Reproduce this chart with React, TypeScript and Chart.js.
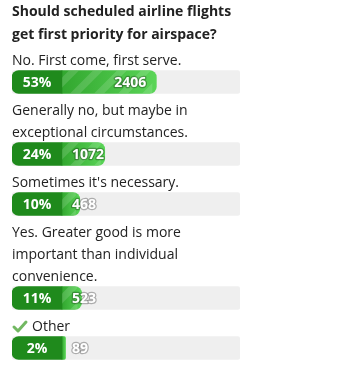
import React, { useEffect, useRef } from "react";
import { Chart, registerables } from "chart.js";
Chart.register(...registerables);

const titleLines = ["Should scheduled airline flights", "get first priority for airspace?"];
const optionLines = [
  ["No. First come, first serve."],
  ["Generally no, but maybe in", "exceptional circumstances."],
  ["Sometimes it's necessary."],
  ["Yes. Greater good is more", "important than individual", "convenience."],
  ["Other"],
];
const percents = [53, 24, 10, 11, 2];
const votes = [2406, 1072, 468, 523, 89];
const checkedOption = [false, false, false, false, true];

const W = 351;
const H = 370;
const LEFT = 12;
const TRACK_RIGHT = 240;
const BOX_W = 50;
const BOX_UNITS = (100 * BOX_W) / (TRACK_RIGHT - LEFT - BOX_W);

const TITLE_Y0 = 12;
const TITLE_LH = 23;
const FIRST_OPTION_Y = 61;
const LINE_H = 22;
const BAR_OFFSET = 21;
const GROUP_GAP = 29;

function computeLayout() {
  const textYs: number[][] = [];
  const barYs: number[] = [];
  let y = FIRST_OPTION_Y;
  optionLines.forEach((lines) => {
    const ys = lines.map((_, i) => y + i * LINE_H);
    textYs.push(ys);
    const b = ys[ys.length - 1] + BAR_OFFSET;
    barYs.push(b);
    y = b + GROUP_GAP;
  });
  return { textYs, barYs };
}

const FONT = "'Open Sans', 'Noto Sans', sans-serif";

export default function App() {
  const ref = useRef<HTMLCanvasElement | null>(null);

  useEffect(() => {
    if (!ref.current) return;
    const { textYs, barYs } = computeLayout();

    const textPlugin = {
      id: "pollText",
      afterDatasetsDraw(chart: any) {
        const ctx = chart.ctx as CanvasRenderingContext2D;
        const ys = chart.scales.y;
        const xs = chart.scales.x;
        ctx.save();
        // stripes on fill bars
        const fillMeta = chart.getDatasetMeta(1);
        fillMeta.data.forEach((el: any) => {
          const p = el.getProps(["x", "y", "base", "height"], true);
          const top = p.y - p.height / 2;
          const bottom = p.y + p.height / 2;
          const w = p.x - p.base;
          if (w <= 0) return;
          ctx.save();
          ctx.beginPath();
          ctx.rect(p.base, top, Math.max(w - 4, 0), p.height);
          ctx.clip();
          ctx.fillStyle = "rgba(255,255,255,0.14)";
          for (let k = p.base - 40; k < p.x + 30; k += 24) {
            ctx.beginPath();
            ctx.moveTo(k, bottom);
            ctx.lineTo(k + 10, bottom);
            ctx.lineTo(k + 10 + p.height, top);
            ctx.lineTo(k + p.height, top);
            ctx.closePath();
            ctx.fill();
          }
          ctx.restore();
        });

        // title
        ctx.fillStyle = "#222";
        ctx.textBaseline = "middle";
        ctx.textAlign = "left";
        ctx.font = `bold 14px ${FONT}`;
        titleLines.forEach((t, i) => {
          ctx.fillText(t, LEFT, ys.getPixelForValue(TITLE_Y0 + i * TITLE_LH));
        });

        // option texts
        ctx.font = `14px ${FONT}`;
        optionLines.forEach((lines, i) => {
          lines.forEach((t, j) => {
            const y = ys.getPixelForValue(textYs[i][j]);
            let x = LEFT;
            if (checkedOption[i] && j === 0) {
              ctx.save();
              ctx.strokeStyle = "#72b862";
              ctx.lineWidth = 3;
              ctx.lineCap = "round";
              ctx.lineJoin = "round";
              ctx.beginPath();
              ctx.moveTo(LEFT + 2, y);
              ctx.lineTo(LEFT + 6, y + 4);
              ctx.lineTo(LEFT + 14, y - 5);
              ctx.stroke();
              ctx.restore();
              x = LEFT + 20;
            }
            ctx.fillStyle = "#222";
            ctx.fillText(t, x, y);
          });
        });

        // percent & count labels
        const boxLeft = xs.getPixelForValue(-BOX_UNITS);
        const boxRight = xs.getPixelForValue(0);
        percents.forEach((pct, i) => {
          const y = ys.getPixelForValue(barYs[i]) + 1;
          ctx.font = `bold 14px ${FONT}`;
          ctx.textAlign = "center";
          ctx.fillStyle = "#fff";
          ctx.fillText(`${pct}%`, (boxLeft + boxRight) / 2, y);

          ctx.font = `bold 14px ${FONT}`;
          const label = String(votes[i]);
          const tw = ctx.measureText(label).width;
          const fillEnd = xs.getPixelForValue(pct);
          const right = Math.max(fillEnd - 10, boxRight + 10 + tw);
          ctx.textAlign = "right";
          ctx.lineWidth = 2.5;
          ctx.lineJoin = "round";
          ctx.strokeStyle = "rgba(0,0,0,0.28)";
          ctx.strokeText(label, right, y);
          ctx.fillStyle = "#fff";
          ctx.fillText(label, right, y);
        });
        ctx.restore();
      },
    };

    const chart = new Chart(ref.current, {
      type: "bar",
      data: {
        datasets: [
          {
            label: "box",
            order: 1,
            data: percents.map((_, i) => ({ y: barYs[i], x: [-BOX_UNITS, 0] })) as any,
            backgroundColor: "#1f8a1c",
            borderRadius: { topLeft: 7, bottomLeft: 7, topRight: 0, bottomRight: 0 },
            borderSkipped: false,
            barThickness: 23,
            grouped: false,
          },
          {
            label: "fill",
            order: 2,
            data: percents.map((p, i) => ({ y: barYs[i], x: [0, p] })) as any,
            backgroundColor: (c: any) => {
              const chart = c.chart;
              const xs = chart.scales && chart.scales.x;
              if (!xs || c.type !== "data") return "#3cb83c";
              const x0 = xs.getPixelForValue(0);
              const x1 = xs.getPixelForValue(percents[c.dataIndex]);
              if (!isFinite(x0) || !isFinite(x1)) return "#3cb83c";
              const g = chart.ctx.createLinearGradient(x0, 0, Math.max(x1, x0 + 1), 0);
              g.addColorStop(0, "#32a72f");
              g.addColorStop(1, "#5ad557");
              return g;
            },
            borderRadius: { topLeft: 0, bottomLeft: 0, topRight: 7, bottomRight: 7 },
            borderSkipped: false,
            barThickness: 23,
            grouped: false,
          },
          {
            label: "track",
            order: 3,
            data: percents.map((_, i) => ({ y: barYs[i], x: [-BOX_UNITS, 100] })) as any,
            backgroundColor: "#efefef",
            borderRadius: 3,
            borderSkipped: false,
            barThickness: 23,
            grouped: false,
          },
        ],
      },
      options: {
        indexAxis: "y",
        animation: false,
        responsive: false,
        maintainAspectRatio: false,
        layout: { padding: { left: LEFT, right: W - TRACK_RIGHT, top: 0, bottom: 0 } },
        scales: {
          x: { type: "linear", min: -BOX_UNITS, max: 100, display: false, stacked: false },
          y: {
            type: "linear",
            min: 0,
            max: H,
            reverse: true,
            display: false,
            offset: false,
            grid: { offset: false },
          },
        },
        plugins: { legend: { display: false }, tooltip: { enabled: false } },
        events: [],
      } as any,
      plugins: [textPlugin],
    });
    return () => chart.destroy();
  }, []);

  return (
    <div style={{ position: "fixed", left: 0, top: 0, width: W, height: H, background: "#fff" }}>
      <canvas ref={ref} width={W} height={H} style={{ width: W, height: H, display: "block" }} />
    </div>
  );
}
